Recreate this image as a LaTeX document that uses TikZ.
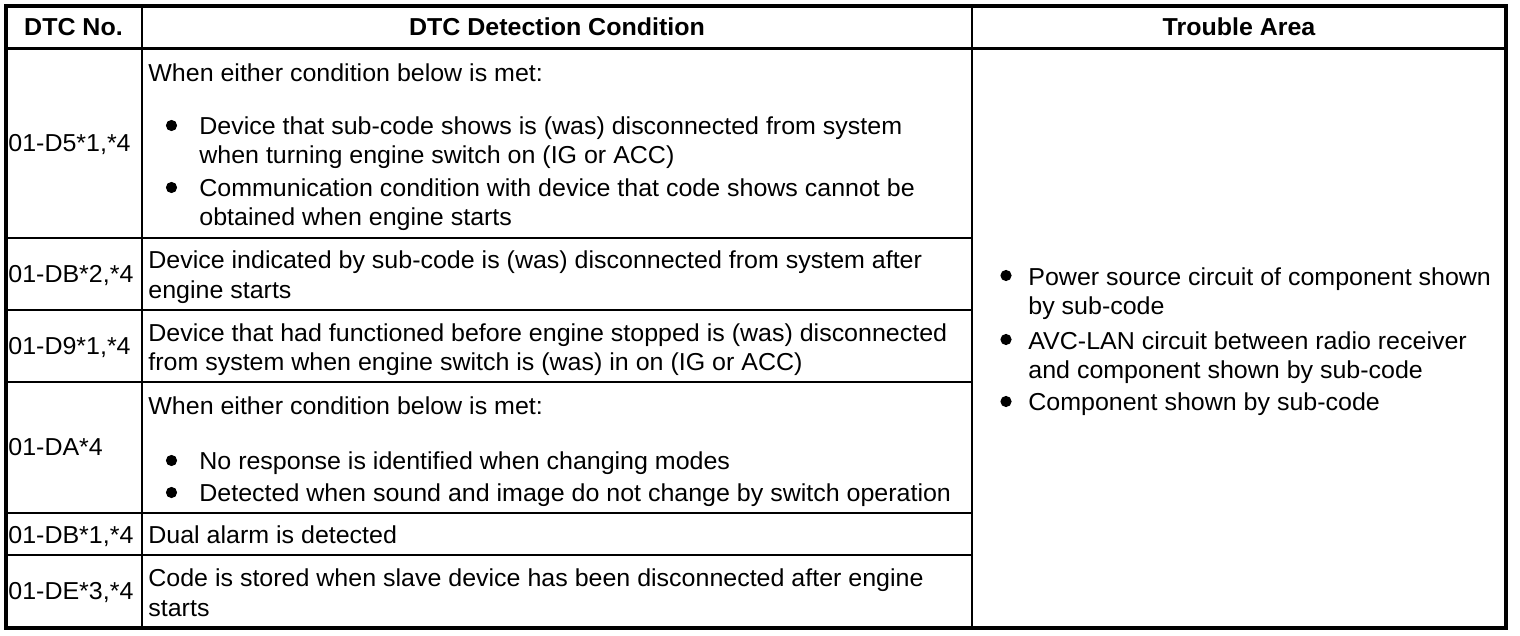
\documentclass[tikz,border=0pt]{standalone}
\usepackage{fontspec}
\setmainfont[FakeStretch=1.02]{Liberation Sans}
\usetikzlibrary{positioning}

\begin{document}
\begin{tikzpicture}[x=0.5pt,y=-0.5pt,
    every node/.style={inner sep=0pt,font=\fontsize{12.25}{14.75}\selectfont},
    txt/.style={anchor=base west,align=left},
    head/.style={anchor=base,font=\fontsize{12.25}{14.75}\selectfont\bfseries},
    dot/.style={circle,fill=black,minimum size=5.6pt},
    frame/.style={line width=2pt},
    rule/.style={line width=0.7pt}]

  \useasboundingbox (0,0) rectangle (1520,636);

  % grid
  \draw[line width=1.3pt] (5.8,48.5) -- (1505.8,48.5);
  \draw[rule] (142,5.8) -- (142,627.5);
  \draw[rule] (972,5.8) -- (972,627.5);
  \foreach \y in {238,310,382,513,555}
    \draw[rule] (5.8,\y) -- (972,\y);
  \draw[frame] (5.8,5.8) rectangle (1505.8,627.5);

  % header
  \node[head] (hno) at (73.5,35.5) {DTC No.};
  \node[head] (hcond) at (557,35.5) {DTC Detection Condition};
  \node[head] (harea) at (1239,35.5) {Trouble Area};

  % DTC numbers
  \node[txt] (n1) at (8,151.5) {01-D5*1,*4};
  \node[txt] (n2) at (8,282.5) {01-DB*2,*4};
  \node[txt] (n3) at (8,354.5) {01-D9*1,*4};
  \node[txt] (n4) at (8,455.5) {01-DA*4};
  \node[txt] (n5) at (8,543) {01-DB*1,*4};
  \node[txt] (n6) at (8,599.5) {01-DE*3,*4};

  % detection conditions (two-line texts sit on their last line)
  \node[txt] (c1) at (148,81.5) {When either condition below is met:};
  \node[dot] (c1b1) at (171.5,125.5) {};
  \node[txt] (c1i1) at (199,164) {Device that sub-code shows is (was) disconnected from system\\when turning engine switch on (IG or ACC)};
  \node[dot] (c1b2) at (171.5,187.5) {};
  \node[txt] (c1i2) at (199,226) {Communication condition with device that code shows cannot be\\obtained when engine starts};
  \node[txt] (c2) at (148,298.5) {Device indicated by sub-code is (was) disconnected from system after\\engine starts};
  \node[txt] (c3) at (148,370.5) {Device that had functioned before engine stopped is (was) disconnected\\from system when engine switch is (was) in on (IG or ACC)};
  \node[txt] (c4) at (148,414.5) {When either condition below is met:};
  \node[dot] (c4b1) at (171.5,460.5) {};
  \node[txt] (c4i1) at (199,469.5) {No response is identified when changing modes};
  \node[dot] (c4b2) at (171.5,492.5) {};
  \node[txt] (c4i2) at (199,501.5) {Detected when sound and image do not change by switch operation};
  \node[txt] (c5) at (148,543) {Dual alarm is detected};
  \node[txt] (c6) at (148,616) {Code is stored when slave device has been disconnected after engine\\starts};

  % trouble area
  \node[dot] (a1b) at (1006,275.5) {};
  \node[txt] (a1) at (1028,314.5) {Power source circuit of component shown\\by sub-code};
  \node[dot] (a2b) at (1006,339.5) {};
  \node[txt] (a2) at (1028,378.5) {AVC-LAN circuit between radio receiver\\and component shown by sub-code};
  \node[dot] (a3b) at (1006,401.5) {};
  \node[txt] (a3) at (1028,410.5) {Component shown by sub-code};
\end{tikzpicture}
\end{document}
